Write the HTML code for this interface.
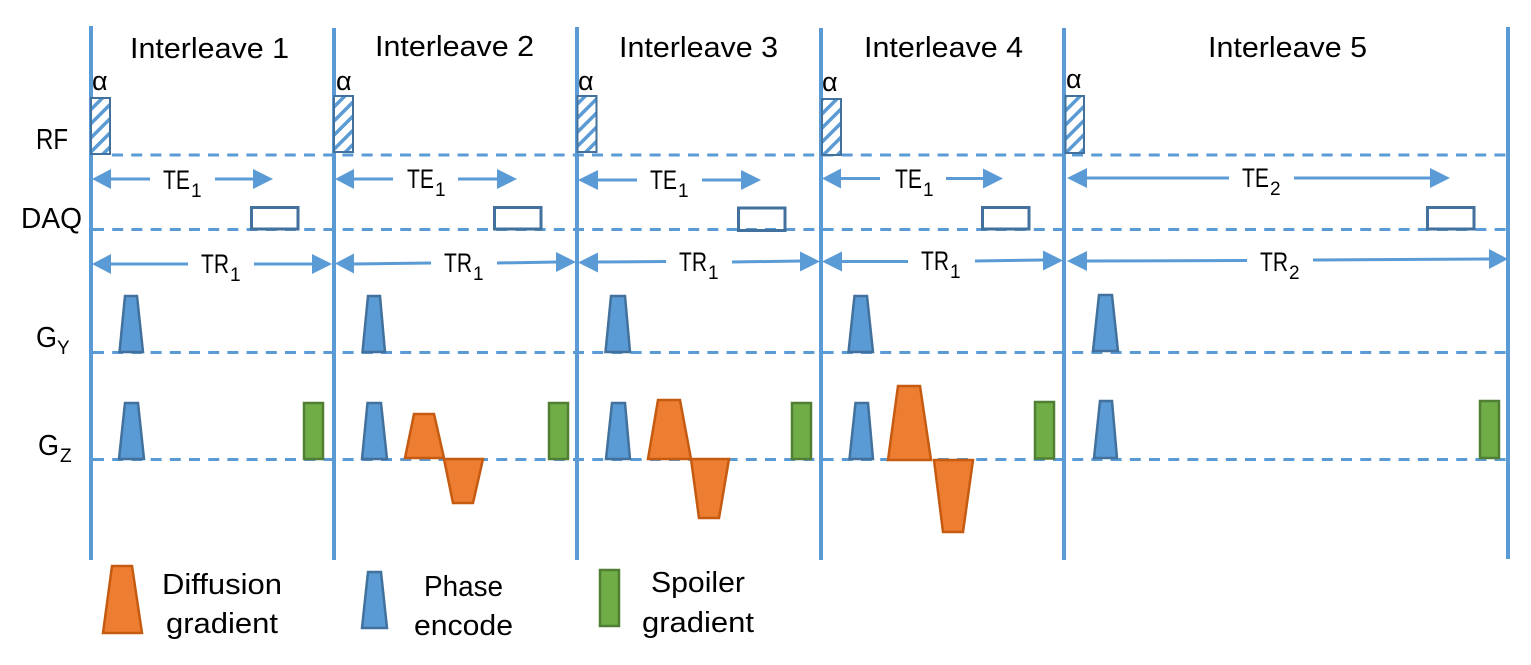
<!DOCTYPE html>
<html><head><meta charset="utf-8"><style>
html,body{margin:0;padding:0;background:#fff;width:1531px;height:665px;overflow:hidden}
svg{display:block}
text{font-family:"Liberation Sans",sans-serif;fill:#000;font-size:29px}
.t{font-size:27px}
.s{font-size:19px}
.l{font-size:26px}
.al{font-size:27px}
.v{stroke:#5b9bd5;stroke-width:4;fill:none}
.d{stroke:#5b9bd5;stroke-width:3;stroke-dasharray:11 8.2;fill:none}
.a{stroke:#5b9bd5;stroke-width:3;fill:none}
.h{fill:#5b9bd5}
.b{fill:#5b9bd5;stroke:#41719c;stroke-width:2.500}
.o{fill:#ed7d31;stroke:#c55a11;stroke-width:2.500}
.g{fill:#70ad47;stroke:#507e32;stroke-width:2.500}
.q{fill:none;stroke:#41719c;stroke-width:3}
.r{fill:url(#hatch);stroke:#41719c;stroke-width:2}
</style></head><body>
<svg width="1531" height="665" viewBox="0 0 1531 665" xmlns="http://www.w3.org/2000/svg">
<defs><pattern id="hatch" width="10" height="10" patternUnits="userSpaceOnUse" patternTransform="rotate(45)"><rect width="10" height="10" fill="#fff"/><rect width="3.500" height="10" fill="#5b9bd5"/></pattern></defs>

<path class="d" d="M112 155H1508M93 229.500H1508M93 352.500H1508M93 459.500H1508"/>
<path class="v" d="M91 26V560M334 28V560M577 27V560M821 28V560M1064 28V560M1508 27V559"/>

<rect class="r" x="91" y="98" width="19" height="56"/>
<rect class="r" x="334" y="96" width="19" height="56"/>
<rect class="r" x="577.500" y="96" width="19" height="56"/>
<rect class="r" x="822" y="99" width="19" height="56"/>
<rect class="r" x="1065.500" y="96" width="18.500" height="57"/>

<rect class="q" x="251.500" y="207.500" width="46.500" height="21.500"/>
<rect class="q" x="494.500" y="207.500" width="46.500" height="21.500"/>
<rect class="q" x="738.500" y="208" width="46.500" height="22.500"/>
<rect class="q" x="982.500" y="207.500" width="46.500" height="21.500"/>
<rect class="q" x="1427.500" y="207.500" width="46.500" height="21.500"/>

<!-- TE arrows -->
<path class="a" d="M110 179H150M215 179H254M354 179H393M458 179H498M597 180H637M702 180H742M840 178.500H880M946 178.500H984M1086 178H1229M1294 178H1431"/>
<polygon class="h" points="92,179 111,169 111,189"/><polygon class="h" points="273,179 253,169 253,189"/>
<polygon class="h" points="335,179 354,169 354,189"/><polygon class="h" points="517,179 497,169 497,189"/>
<polygon class="h" points="578,180 598,170 598,190"/><polygon class="h" points="761,180 741,170 741,190"/>
<polygon class="h" points="822,178.500 841,168.500 841,188.500"/><polygon class="h" points="1003,178.500 983,168.500 983,188.500"/>
<polygon class="h" points="1067,178 1087,168 1087,188"/><polygon class="h" points="1450,178 1430,168 1430,188"/>

<!-- TR arrows -->
<path class="a" d="M110 264H188M254 264H313M353 264L431 263M497 263L557 262M597 262L666 261.500M732 262L801 261M840 261.500H908M975 261L1044 260M1086 261L1247 260.500M1313 260L1490 259"/>
<polygon class="h" points="92,264 111,254 111,274"/><polygon class="h" points="332,264 312,254 312,274"/>
<polygon class="h" points="335,263.500 354,253.500 354,273.500"/><polygon class="h" points="576,262 556,252 556,272"/>
<polygon class="h" points="578,262.500 598,252.500 598,272.500"/><polygon class="h" points="820,261.500 800,251.500 800,271.500"/>
<polygon class="h" points="822,261.500 842,251.500 842,271.500"/><polygon class="h" points="1063,260.500 1043,250.500 1043,270.500"/>
<polygon class="h" points="1067,261 1087,251 1087,271"/><polygon class="h" points="1508,259 1489,249 1489,269"/>

<!-- Phase encode -->
<polygon class="b" points="119.500,352 125,296 137,296 143,352"/>
<polygon class="b" points="362.500,352 368,296 380,296 385,352"/>
<polygon class="b" points="605.500,352 611,296 625,296 630,352"/>
<polygon class="b" points="848.500,352 854.500,296 867,296 873,352"/>
<polygon class="b" points="1093,351 1099,295 1112,295 1118,351"/>
<polygon class="b" points="119,459 125,403 138,403 144,459"/>
<polygon class="b" points="362,459 367.500,403 381,403 387,459"/>
<polygon class="b" points="606,459 612,403 625,403 630,459"/>
<polygon class="b" points="849.500,459 855.500,403 868,403 873,459"/>
<polygon class="b" points="1094,458 1100,401 1112,401 1117,458"/>

<!-- Diffusion -->
<polygon class="o" points="405,458 414,414 434,414 444,458"/>
<polygon class="o" points="444,459 483,459 473,503 453,503"/>
<polygon class="o" points="648,459 658,400 680,400 691,459"/>
<polygon class="o" points="691,459 729,459 719,518 699,518"/>
<polygon class="o" points="888,460 898,386 920,386 931,460"/>
<polygon class="o" points="934,460 973,460 963,532 943,532"/>

<!-- Spoilers -->
<rect class="g" x="304" y="403" width="19" height="56"/>
<rect class="g" x="549" y="403" width="19" height="56"/>
<rect class="g" x="792" y="403" width="19" height="56"/>
<rect class="g" x="1035" y="402" width="19" height="56.500"/>
<rect class="g" x="1480" y="401" width="19" height="57"/>

<!-- Legend -->
<polygon class="o" points="103,633 112,566 132,566 142,633"/>
<polygon class="b" points="362,628 368,572 381,572 387,628"/>
<rect class="g" x="600" y="570" width="19" height="56"/>

<!-- Titles -->
<text x="130" y="58" textLength="159" lengthAdjust="spacingAndGlyphs">Interleave 1</text>
<text x="375" y="56" textLength="159" lengthAdjust="spacingAndGlyphs">Interleave 2</text>
<text x="619" y="57" textLength="159" lengthAdjust="spacingAndGlyphs">Interleave 3</text>
<text x="864" y="57" textLength="159" lengthAdjust="spacingAndGlyphs">Interleave 4</text>
<text x="1208" y="57" textLength="159" lengthAdjust="spacingAndGlyphs">Interleave 5</text>

<!-- alpha -->
<text class="al" x="92" y="90">α</text>
<text class="al" x="336" y="90">α</text>
<text class="al" x="578" y="90">α</text>
<text class="al" x="822" y="91">α</text>
<text class="al" x="1066" y="88">α</text>

<!-- Left labels -->
<text x="36" y="149" textLength="32" lengthAdjust="spacingAndGlyphs">RF</text>
<text x="21" y="228" textLength="61" lengthAdjust="spacingAndGlyphs">DAQ</text>
<text x="36" y="347" textLength="21" lengthAdjust="spacingAndGlyphs">G</text><text class="s" x="57" y="354">Y</text>
<text x="38" y="455" textLength="21" lengthAdjust="spacingAndGlyphs">G</text><text class="s" x="60" y="462">Z</text>

<!-- TE labels -->
<text class="t" x="163" y="189" textLength="27" lengthAdjust="spacingAndGlyphs">TE</text><text class="s" x="191" y="197">1</text>
<text class="t" x="407" y="188" textLength="27" lengthAdjust="spacingAndGlyphs">TE</text><text class="s" x="435" y="196">1</text>
<text class="t" x="650" y="189" textLength="27" lengthAdjust="spacingAndGlyphs">TE</text><text class="s" x="678" y="197">1</text>
<text class="t" x="895" y="188" textLength="27" lengthAdjust="spacingAndGlyphs">TE</text><text class="s" x="923" y="196">1</text>
<text class="t" x="1242" y="187" textLength="27" lengthAdjust="spacingAndGlyphs">TE</text><text class="s" x="1270" y="195">2</text>

<!-- TR labels -->
<text class="t" x="201" y="273" textLength="28" lengthAdjust="spacingAndGlyphs">TR</text><text class="s" x="230" y="281">1</text>
<text class="t" x="444" y="272" textLength="28" lengthAdjust="spacingAndGlyphs">TR</text><text class="s" x="473" y="280">1</text>
<text class="t" x="679" y="271" textLength="28" lengthAdjust="spacingAndGlyphs">TR</text><text class="s" x="708" y="279">1</text>
<text class="t" x="921" y="270" textLength="28" lengthAdjust="spacingAndGlyphs">TR</text><text class="s" x="950" y="278">1</text>
<text class="t" x="1260" y="271" textLength="28" lengthAdjust="spacingAndGlyphs">TR</text><text class="s" x="1289" y="279">2</text>

<!-- Legend labels -->
<text x="162" y="594" textLength="120" lengthAdjust="spacingAndGlyphs">Diffusion</text>
<text x="166" y="633" textLength="112" lengthAdjust="spacingAndGlyphs">gradient</text>
<text x="424" y="596" textLength="79" lengthAdjust="spacingAndGlyphs">Phase</text>
<text x="414" y="635" textLength="99" lengthAdjust="spacingAndGlyphs">encode</text>
<text x="651" y="592" textLength="94" lengthAdjust="spacingAndGlyphs">Spoiler</text>
<text x="642" y="632" textLength="112" lengthAdjust="spacingAndGlyphs">gradient</text>
</svg>
</body></html>
